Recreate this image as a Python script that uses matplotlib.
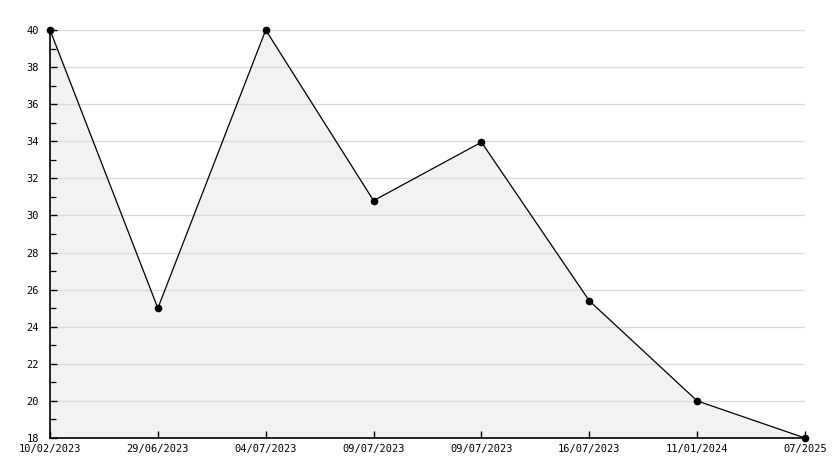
import numpy as np
import matplotlib.pyplot as plt
from matplotlib.ticker import MultipleLocator

dates = ['10/02/2023', '29/06/2023', '04/07/2023', '09/07/2023',
         '09/07/2023', '16/07/2023', '11/01/2024', '07/2025']
values = [40, 25, 40, 30.8, 33.95, 25.4, 20, 18]

fig = plt.figure(figsize=(8.34, 4.68), dpi=100)
ax = fig.add_axes([50/834, 30/468, 755/834, 408/468])

x = np.arange(len(values))
ax.fill_between(x, values, 18, color='#f2f2f2', zorder=1)
ax.plot(x, values, color='black', lw=0.9, marker='o', ms=4.5, zorder=3,
        clip_on=False)

ax.set_xlim(0, len(values) - 1)
ax.set_ylim(18, 40)
ax.set_xticks(x)
ax.set_xticklabels(dates)
ax.yaxis.set_major_locator(MultipleLocator(2))
ax.yaxis.set_minor_locator(MultipleLocator(1))
ax.grid(axis='y', which='major', color='#d9d9d9', lw=0.9, zorder=0)

for s in ['top', 'right']:
    ax.spines[s].set_visible(False)
for s in ['left', 'bottom']:
    ax.spines[s].set_linewidth(1.2)

ax.tick_params(axis='both', which='major', direction='in', length=5, width=1,
               labelsize=7.5)
ax.tick_params(axis='y', which='minor', direction='in', length=4, width=0.9)
ax.tick_params(axis='x', pad=4)
ax.tick_params(axis='y', pad=8)
for lab in ax.get_xticklabels() + ax.get_yticklabels():
    lab.set_family('DejaVu Sans Mono')

fig.savefig('out.png', dpi=100)
